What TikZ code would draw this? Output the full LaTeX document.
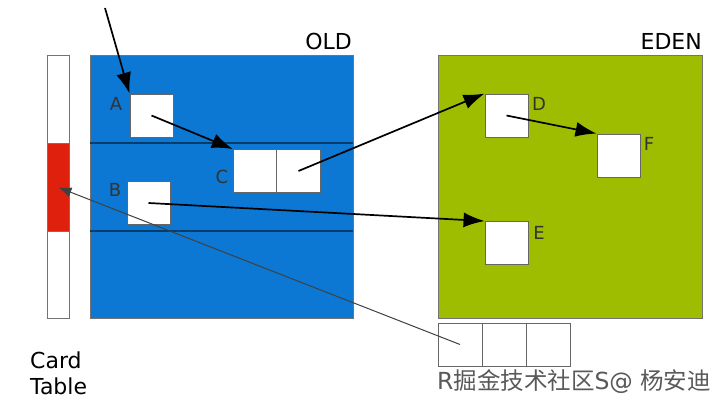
\documentclass[tikz,border=0pt]{standalone}
\usepackage{fontspec}
\setmainfont{DejaVu Sans}
\newfontfamily\cjk{Noto Sans CJK SC}
\usetikzlibrary{positioning,arrows.meta}
\definecolor{oldblue}{RGB}{12,120,212}
\definecolor{edengreen}{RGB}{158,188,0}
\definecolor{cardred}{RGB}{222,32,12}
\tikzset{
  refarrow/.style={-{Latex[length=21pt,width=15pt]}, line width=1.7pt},
  thinarrow/.style={-{Latex[length=13pt,width=10pt]}, line width=1pt, draw=black!75},
  objbox/.style={draw=black!60, line width=0.9pt, fill=white, minimum width=43pt, minimum height=43pt, inner sep=0pt},
  region/.style={draw=black!55, line width=0.9pt, anchor=north west, inner sep=0pt},
  lbl/.style={font=\fontsize{18}{18}\selectfont, text=black!80, inner sep=0pt},
  title/.style={font=\fontsize{22}{22}\selectfont, inner sep=0pt}
}

\begin{document}
\begin{tikzpicture}[x=1pt, y=-1pt]
  \useasboundingbox (0,0) rectangle (726,409);
  % regions
  \node[region, fill=white, minimum width=22pt, minimum height=263pt] (card) at (47,55) {};
  \node[region, fill=cardred, minimum width=22pt, minimum height=88pt] (dirty) at (47,143) {};
  \node[region, fill=oldblue, minimum width=263pt, minimum height=263pt] (old) at (90,55) {};
  \node[region, fill=edengreen, minimum width=264pt, minimum height=263pt] (eden) at (438,55) {};
  \draw[oldblue!50!black, line width=1.2pt] (90,143) -- (353,143);
  \draw[oldblue!50!black, line width=1.2pt] (90,231) -- (353,231);
  \node[title, anchor=east] (oldname) at (352,41) {OLD};
  \node[title, anchor=east] (edenname) at (702,41) {EDEN};
  \node[title, anchor=north west, align=left, font=\fontsize{22}{26}\selectfont] (cardname) at (30,352) {Card\\Table};

  % objects
  \node[objbox] (a) at (151.5,115.5) {};
  \node[objbox, minimum width=43.5pt] (c1) at (255,171) {};
  \node[objbox, minimum width=43.5pt] (c2) at (298.5,171) {};
  \node[objbox] (b) at (148.5,203) {};
  \node[objbox] (d) at (506.5,115.5) {};
  \node[objbox] (f) at (618.5,155.5) {};
  \node[objbox] (e) at (506.5,243) {};
  \node[objbox, minimum width=44pt] (r1) at (460,344.5) {};
  \node[objbox, minimum width=44pt] (r2) at (504,344.5) {};
  \node[objbox, minimum width=44pt] (r3) at (548,344.5) {};

  \node[lbl] (la) at (116,104) {A};
  \node[lbl] (lb) at (115,190) {B};
  \node[lbl] (lc) at (222,177) {C};
  \node[lbl] (ld) at (539,104) {D};
  \node[lbl] (lf) at (649,144) {F};
  \node[lbl] (le) at (539,233) {E};
  \node[anchor=west, inner sep=0pt, text=black!65, font=\fontsize{23.5}{23.5}\selectfont] (rs) at (437,382) {R{\cjk 掘金技术社区}S@ {\cjk 杨安迪}};

  % references
  \coordinate (root) at (105,8);
  \draw[refarrow] (root) -- (a.north west);
  \draw[refarrow] (a.center) -- (c1.north west);
  \draw[refarrow] (c2.center) -- (d.north west);
  \draw[refarrow] (d.center) -- (f.north west);
  \draw[refarrow] (b.center) -- (e.north west);
  \draw[thinarrow] (r1.center) -- (dirty.center);
\end{tikzpicture}
\end{document}
